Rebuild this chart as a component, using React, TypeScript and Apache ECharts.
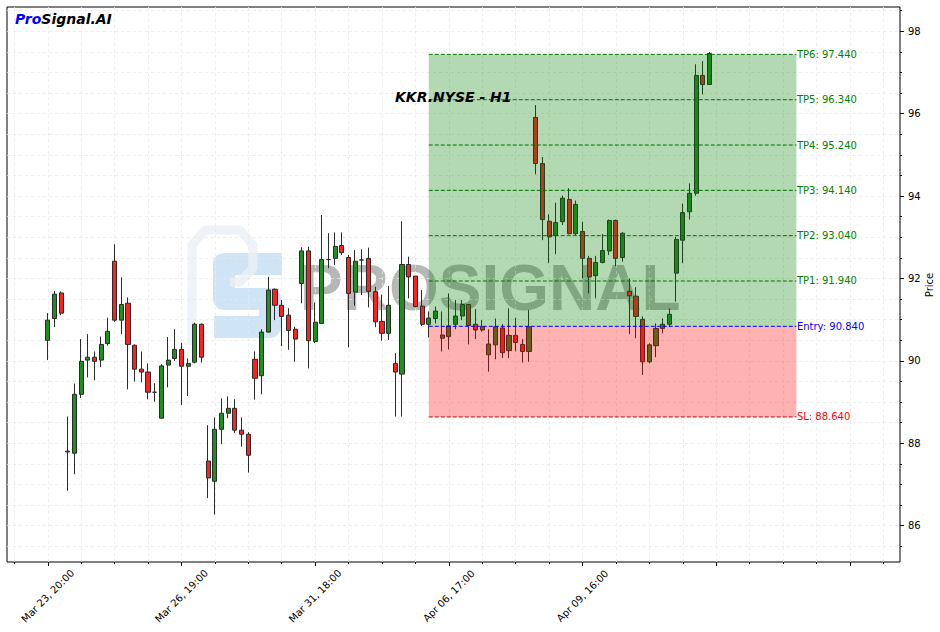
import React, { useEffect, useRef } from "react";
import * as echarts from "echarts";

// ---- data ----
const opens = [
  90.5, 91.03, 91.65, 87.81, 87.76, 89.19, 90.02, 90.09, 90.02, 90.42,
  92.42, 90.99, 91.4, 90.38, 89.8, 89.73, 89.24, 88.61, 89.9, 90.06,
  90.28, 89.87, 89.97, 90.89, 87.57, 87.08, 88.34, 88.73, 88.85, 88.32,
  88.22, 90.04, 89.64, 90.7, 91.74, 91.35, 91.11, 90.77, 91.88, 92.67,
  90.47, 90.91, 92.46, 92.49, 92.8, 92.51, 91.67, 92.45, 92.49, 91.68,
  90.96, 90.67, 89.94, 89.68, 92.34, 92.06, 91.33, 90.89, 91.03, 90.55,
  90.59, 90.89, 91.09, 91.37, 90.89, 90.75, 90.15, 90.39, 90.8, 90.25,
  90.62, 90.4, 90.23, 95.91, 94.79, 93.39, 93.04, 93.38, 93.92, 93.09,
  93.14, 92.49, 92.07, 92.39, 92.67, 93.41, 92.51, 91.69, 91.57, 91.01,
  89.98, 90.37, 90.79, 90.89, 92.13, 92.93, 93.62, 94.07, 96.93, 96.71,
];
const closes = [
  90.99, 91.62, 91.16, 87.79, 89.19, 89.99, 90.09, 89.99, 90.4, 90.72,
  90.99, 91.37, 90.4, 89.8, 89.73, 89.24, 89.24, 89.88, 90.02, 90.28,
  89.87, 89.94, 90.89, 90.09, 87.16, 88.34, 88.73, 88.85, 88.32, 88.22,
  87.71, 89.58, 90.7, 91.72, 91.35, 91.08, 90.74, 90.53, 92.67, 90.49,
  90.94, 92.46, 92.46, 92.78, 92.63, 91.64, 92.42, 92.45, 91.69, 90.95,
  90.67, 91.35, 89.73, 92.34, 92.04, 91.32, 90.89, 91.04, 91.21, 90.63,
  90.85, 91.09, 91.37, 90.86, 90.75, 90.83, 90.41, 90.83, 90.2, 90.62,
  90.45, 90.23, 90.83, 94.79, 93.43, 93.01, 93.36, 93.95, 93.09, 93.8,
  92.49, 92.04, 92.39, 92.68, 93.41, 92.49, 93.1, 91.58, 91.08, 89.98,
  90.39, 90.79, 90.89, 91.13, 92.95, 93.6, 94.07, 96.93, 96.71, 97.46,
];
const lows = [
  90.02, 90.82, 91.11, 86.85, 87.25, 89.1, 89.6, 89.53, 89.85, 90.37,
  90.95, 90.65, 89.31, 89.5, 89.48, 89.07, 89.01, 88.6, 89.36, 90.0,
  88.93, 89.15, 89.94, 89.96, 86.67, 86.27, 87.98, 88.61, 88.25, 87.92,
  87.29, 89.06, 89.19, 90.69, 90.99, 90.36, 90.27, 89.98, 91.4, 89.82,
  90.43, 90.9, 92.25, 92.33, 92.57, 90.33, 91.34, 91.6, 91.3, 90.82,
  90.49, 90.51, 88.65, 88.65, 91.52, 91.3, 90.85, 90.57, 90.91, 90.23,
  90.28, 90.77, 90.99, 90.4, 90.53, 90.71, 89.74, 90.04, 90.07, 90.07,
  90.23, 89.96, 89.98, 94.53, 92.93, 92.37, 92.59, 93.3, 93.07, 93.05,
  92.0, 91.64, 91.52, 92.37, 92.57, 92.3, 92.41, 90.65, 90.55, 89.66,
  89.94, 90.09, 90.67, 90.82, 91.44, 92.37, 93.43, 94.01, 96.47, 96.7,
];
const highs = [
  91.16, 91.7, 91.69, 88.65, 89.45, 90.53, 90.65, 90.23, 90.59, 91.05,
  92.83, 92.03, 91.54, 90.4, 90.23, 89.94, 89.46, 89.92, 90.58, 90.77,
  90.44, 90.06, 90.93, 90.91, 88.44, 88.63, 89.09, 89.14, 89.07, 88.63,
  88.27, 90.23, 90.77, 92.04, 91.76, 91.48, 91.28, 90.83, 92.76, 92.77,
  91.42, 93.54, 93.1, 93.12, 93.12, 92.57, 92.69, 92.71, 92.75, 91.8,
  91.61, 91.82, 90.19, 93.39, 92.53, 92.06, 91.72, 91.2, 91.32, 91.2,
  91.64, 91.48, 91.48, 91.37, 91.26, 90.99, 90.77, 91.03, 90.89, 91.28,
  91.05, 90.53, 91.24, 96.21, 94.95, 93.56, 93.84, 94.01, 94.19, 93.89,
  93.38, 92.55, 92.55, 93.08, 93.43, 93.43, 93.12, 92.0, 91.79, 91.08,
  90.43, 90.91, 91.03, 91.28, 93.01, 93.82, 94.31, 97.2, 97.28, 97.5,
];

const xTickPositions = [0, 20, 40, 60, 80];
const xTickLabels = ["Mar 23, 20:00", "Mar 26, 19:00", "Mar 31, 18:00", "Apr 06, 17:00", "Apr 09, 16:00"];
const xMajorTicks = [0, 20, 40, 60, 80, 100, 120];
const xMinorTicks = [-5, 0, 5, 10, 15, 20, 25, 30, 35, 40, 45, 50, 55, 60, 65, 70, 75, 80, 85, 90, 95, 100, 105, 110, 115, 120, 125];
const yTickValues = [86, 88, 90, 92, 94, 96, 98];
const yMinorValues = [85.5, 86, 86.5, 87, 87.5, 88, 88.5, 89, 89.5, 90, 90.5, 91, 91.5, 92, 92.5, 93, 93.5, 94, 94.5, 95, 95.5, 96, 96.5, 97, 97.5, 98, 98.5];

const levelNames = ["TP6", "TP5", "TP4", "TP3", "TP2", "TP1", "Entry", "SL"];
const levelValues = [97.44, 96.34, 95.24, 94.14, 93.04, 91.94, 90.84, 88.64];
const zoneStart = 57;
const zoneEnd = 112;
const entryPrice = 90.84;
const tpTop = 97.44;
const slPrice = 88.64;

const levelColor = (name: string) => (name === "Entry" ? "#0000ff" : name === "SL" ? "#ff0000" : "#008000");

export default function App() {
  const ref = useRef<HTMLDivElement>(null);
  useEffect(() => {
    if (!ref.current) return;
    const chart = echarts.init(ref.current, null, { renderer: "svg" });
    const candleData = opens.map((o, i) => [i, o, closes[i], lows[i], highs[i]]);
    const zoneData = [
      [zoneStart, zoneEnd, entryPrice, tpTop, 0],
      [zoneStart, zoneEnd, slPrice, entryPrice, 1],
    ];
    const zoneFills = ["rgba(0,128,0,0.3)", "rgba(255,0,0,0.3)"];
    const levelData = levelValues.map((v, i) => [zoneStart, zoneEnd, v, i]);
    const font = "DejaVu Sans";
    const noLine = { show: false, onZero: false };

    chart.setOption({
      animation: false,
      backgroundColor: "#ffffff",
      grid: {
        left: 7,
        top: 7,
        width: 893,
        height: 555,
        containLabel: false,
        outerBoundsMode: "none",
        show: true,
        borderColor: "#000",
        borderWidth: 1,
        backgroundColor: "transparent",
      },
      xAxis: [
        {
          type: "value",
          min: -6.1,
          max: 127.5,
          position: "bottom",
          axisLine: noLine,
          axisTick: { show: true, customValues: xMajorTicks, length: 4, lineStyle: { color: "#000" } },
          axisLabel: {
            customValues: xTickPositions,
            formatter: (v: number) => {
              const k = xTickPositions.indexOf(Math.round(v));
              return k >= 0 ? xTickLabels[k] : "";
            },
            rotate: 45,
            align: "center",
            verticalAlign: "middle",
            margin: 34,
            fontSize: 10,
            fontFamily: font,
            color: "#000",
          },
          splitLine: { show: false },
        },
        {
          type: "value",
          min: -6.1,
          max: 127.5,
          position: "bottom",
          axisLine: noLine,
          axisTick: { show: true, customValues: xMinorTicks, length: 2, lineStyle: { color: "#000" } },
          axisLabel: { show: false },
          splitLine: { show: true, lineStyle: { color: "#e8e8e8", type: [3, 3], width: 0.8 } },
        },
      ],
      yAxis: [
        {
          type: "value",
          min: 85.12,
          max: 98.59,
          position: "right",
          axisLine: noLine,
          axisTick: { show: true, customValues: yTickValues, length: 4, lineStyle: { color: "#000" } },
          axisLabel: { customValues: yTickValues, fontSize: 10, fontFamily: font, color: "#000", margin: 8 },
          splitLine: { show: false },
        },
        {
          type: "value",
          min: 85.12,
          max: 98.59,
          position: "right",
          axisLine: noLine,
          axisTick: { show: true, customValues: yMinorValues, length: 2, lineStyle: { color: "#000" } },
          axisLabel: { show: false },
          splitLine: { show: true, lineStyle: { color: "#e8e8e8", type: [3, 3], width: 0.8 } },
        },
      ],
      series: [
        {
          type: "candlestick",
          xAxisIndex: 0,
          yAxisIndex: 0,
          data: candleData,
          encode: { x: 0, y: [1, 2, 3, 4] },
          barWidth: 4.6,
          z: 3,
          itemStyle: {
            color: "#1f8f1f",
            color0: "#ff2020",
            borderColor: "#2a2a2a",
            borderColor0: "#2a2a2a",
            borderWidth: 1,
          },
        },
        {
          type: "custom",
          xAxisIndex: 0,
          yAxisIndex: 0,
          z: 5,
          silent: true,
          data: zoneData,
          encode: { x: [0, 1], y: [2, 3] },
          renderItem: (params: any, api: any) => {
            const p0 = api.coord([api.value(0), api.value(3)]);
            const p1 = api.coord([api.value(1), api.value(2)]);
            return {
              type: "rect",
              shape: { x: p0[0], y: p0[1], width: p1[0] - p0[0], height: p1[1] - p0[1] },
              style: { fill: zoneFills[api.value(4)] },
            };
          },
        },
        {
          type: "custom",
          xAxisIndex: 0,
          yAxisIndex: 0,
          z: 6,
          silent: true,
          data: levelData,
          encode: { x: [0, 1], y: 2 },
          renderItem: (params: any, api: any) => {
            const idx = api.value(3);
            const name = levelNames[idx];
            const v = levelValues[idx];
            const p0 = api.coord([api.value(0), v]);
            const p1 = api.coord([api.value(1), v]);
            const c = levelColor(name);
            return {
              type: "group",
              children: [
                {
                  type: "line",
                  shape: { x1: p0[0], y1: p0[1], x2: p1[0], y2: p1[1] },
                  style: { stroke: name === "SL" ? "#cc0000" : name === "Entry" ? "#0000ff" : "#007000", lineWidth: 1, lineDash: [4, 2] },
                },
                {
                  type: "text",
                  style: {
                    text: `${name}: ${v.toFixed(3)}`,
                    x: p1[0] + 0.5,
                    y: p1[1],
                    fill: c,
                    fontSize: 10,
                    fontFamily: font,
                    align: "left",
                    verticalAlign: "middle",
                  },
                },
              ],
            };
          },
        },
      ],
      graphic: [
        {
          type: "polyline",
          z: 0,
          silent: true,
          shape: { points: [[282, 264], [224, 264], [224, 299], [270, 299], [270, 327], [214, 327]] },
          style: { stroke: "#cfe5f6", lineWidth: 22, fill: "none", lineJoin: "round" },
        },
        {
          type: "polyline",
          z: 0,
          silent: true,
          shape: { points: [[192, 345], [192, 245], [205, 230], [240, 230], [253, 245], [253, 268], [240, 282], [230, 282]] },
          style: { stroke: "rgba(235,240,245,0.8)", lineWidth: 9, fill: "none", lineJoin: "round" },
        },
        {
          type: "text",
          z: 0,
          silent: true,
          x: 300,
          y: 288,
          style: {
            text: "PROSIGNAL",
            fill: "rgba(95,95,95,0.45)",
            fontSize: 64,
            fontWeight: "bold",
            fontFamily: "Liberation Sans",
            verticalAlign: "middle",
            align: "left",
          },
        },
        {
          type: "text",
          z: 100,
          x: 929,
          y: 285,
          rotation: Math.PI / 2,
          style: {
            text: "Price",
            fill: "#000",
            fontSize: 10,
            fontFamily: font,
            align: "center",
            verticalAlign: "middle",
          },
        },
        {
          type: "text",
          z: 100,
          x: 395,
          y: 97,
          style: {
            text: "KKR.NYSE - H1",
            fill: "#000",
            fontSize: 14,
            fontWeight: "bold",
            fontStyle: "italic",
            fontFamily: font,
            verticalAlign: "middle",
          },
        },
        {
          type: "text",
          z: 100,
          x: 15,
          y: 19,
          style: {
            rich: {
              p: { fill: "#0000ff", fontSize: 14, fontWeight: "bold", fontStyle: "italic", fontFamily: font },
              s: { fill: "#000", fontSize: 14, fontWeight: "bold", fontStyle: "italic", fontFamily: font },
            },
            text: "{p|Pro}{s|Signal.AI}",
            verticalAlign: "middle",
          },
        },
      ],
    });
    return () => chart.dispose();
  }, []);
  return (
    <div
      ref={ref}
      style={{ position: "fixed", left: 0, top: 0, width: 940, height: 632, background: "#fff" }}
    />
  );
}
